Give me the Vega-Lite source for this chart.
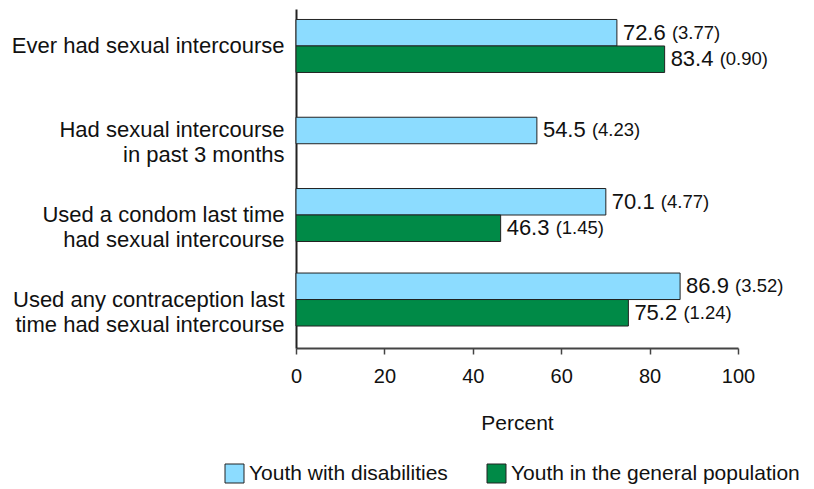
{
  "$schema": "https://vega.github.io/schema/vega-lite/v6.json",
  "autosize": "none",
  "width": 442,
  "height": 339,
  "padding": {"left": 296, "top": 9, "right": 76, "bottom": 141},
  "background": "white",
  "config": {
    "view": {"stroke": null},
    "font": "Liberation Sans",
    "text": {"font": "Liberation Sans"}
  },
  "data": {
    "values": [
      {"cat": "Ever had sexual intercourse", "group": "Youth with disabilities", "value": 72.6, "se": "(3.77)"},
      {"cat": "Ever had sexual intercourse", "group": "Youth in the general population", "value": 83.4, "se": "(0.90)"},
      {"cat": "Had sexual intercourse|in past 3 months", "group": "Youth with disabilities", "value": 54.5, "se": "(4.23)"},
      {"cat": "Used a condom last time|had sexual intercourse", "group": "Youth with disabilities", "value": 70.1, "se": "(4.77)"},
      {"cat": "Used a condom last time|had sexual intercourse", "group": "Youth in the general population", "value": 46.3, "se": "(1.45)"},
      {"cat": "Used any contraception last|time had sexual intercourse", "group": "Youth with disabilities", "value": 86.9, "se": "(3.52)"},
      {"cat": "Used any contraception last|time had sexual intercourse", "group": "Youth in the general population", "value": 75.2, "se": "(1.24)"}
    ]
  },
  "encoding": {
    "y": {
      "field": "cat",
      "type": "nominal",
      "sort": ["Ever had sexual intercourse", "Had sexual intercourse|in past 3 months", "Used a condom last time|had sexual intercourse", "Used any contraception last|time had sexual intercourse"],
      "scale": {"domain": ["Ever had sexual intercourse", "Had sexual intercourse|in past 3 months", "Used a condom last time|had sexual intercourse", "Used any contraception last|time had sexual intercourse"], "paddingInner": 0.373, "paddingOuter": 0.192, "align": 0.323},
      "axis": {
        "title": null,
        "ticks": false,
        "domain": true,
        "domainColor": "#222",
        "domainWidth": 2,
        "labelFontSize": 22,
        "labelColor": "#111",
        "labelPadding": 12,
        "labelLineHeight": 25,
        "labelLimit": 400,
        "labelExpr": "split(datum.label, '|')"
      }
    },
    "x": {
      "field": "value",
      "type": "quantitative",
      "scale": {"domain": [0, 100], "nice": false},
      "axis": {
        "title": "Percent",
        "titleFontSize": 21,
        "titleFontWeight": "normal",
        "titleColor": "#111",
        "titlePadding": 26,
        "values": [0, 20, 40, 60, 80, 100],
        "grid": false,
        "domainColor": "#444",
        "domainWidth": 2,
        "tickColor": "#444",
        "tickWidth": 1.5,
        "tickSize": 6,
        "labelFontSize": 20,
        "labelColor": "#111",
        "labelPadding": 12,
        "labelFlush": false
      }
    }
  },
  "layer": [
    {
      "transform": [{"filter": "datum.cat !== 'Had sexual intercourse|in past 3 months'"}],
      "mark": {"type": "bar", "stroke": "#222", "strokeWidth": 1},
      "encoding": {
        "yOffset": {"field": "group", "type": "nominal", "scale": {"domain": ["Youth with disabilities", "Youth in the general population"], "paddingInner": 0, "paddingOuter": 0}},
        "color": {
          "field": "group",
          "type": "nominal",
          "scale": {"domain": ["Youth with disabilities", "Youth in the general population"], "range": ["#8CDCFF", "#008A47"]},
          "legend": {
            "title": null,
            "orient": "none",
            "legendX": -72,
            "legendY": 454,
            "direction": "horizontal",
            "symbolType": "square",
            "symbolSize": 361,
            "symbolStrokeColor": "#111",
            "symbolStrokeWidth": 1,
            "labelFontSize": 21,
            "labelColor": "#111",
            "labelOffset": 4,
            "columnPadding": 37,
            "labelLimit": 400
          }
        }
      }
    },
    {
      "transform": [{"filter": "datum.cat === 'Had sexual intercourse|in past 3 months'"}],
      "mark": {"type": "bar", "stroke": "#222", "strokeWidth": 1, "height": {"band": 0.5}},
      "encoding": {
        "color": {"field": "group", "type": "nominal"}
      }
    },
    {
      "transform": [{"filter": "datum.cat !== 'Had sexual intercourse|in past 3 months'"}],
      "mark": {"type": "text", "align": "left", "baseline": "middle", "dx": 6, "fontSize": 22, "color": "#111"},
      "encoding": {
        "yOffset": {"field": "group", "type": "nominal"},
        "text": {"field": "value", "type": "quantitative", "format": ".1f"}
      }
    },
    {
      "transform": [{"filter": "datum.cat !== 'Had sexual intercourse|in past 3 months'"}],
      "mark": {"type": "text", "align": "left", "baseline": "middle", "dx": 55, "fontSize": 18.5, "color": "#111"},
      "encoding": {
        "yOffset": {"field": "group", "type": "nominal"},
        "text": {"field": "se", "type": "nominal"}
      }
    },
    {
      "transform": [{"filter": "datum.cat === 'Had sexual intercourse|in past 3 months'"}],
      "mark": {"type": "text", "align": "left", "baseline": "middle", "dx": 6, "fontSize": 22, "color": "#111"},
      "encoding": {
        "text": {"field": "value", "type": "quantitative", "format": ".1f"}
      }
    },
    {
      "transform": [{"filter": "datum.cat === 'Had sexual intercourse|in past 3 months'"}],
      "mark": {"type": "text", "align": "left", "baseline": "middle", "dx": 55, "fontSize": 18.5, "color": "#111"},
      "encoding": {
        "text": {"field": "se", "type": "nominal"}
      }
    }
  ]
}
